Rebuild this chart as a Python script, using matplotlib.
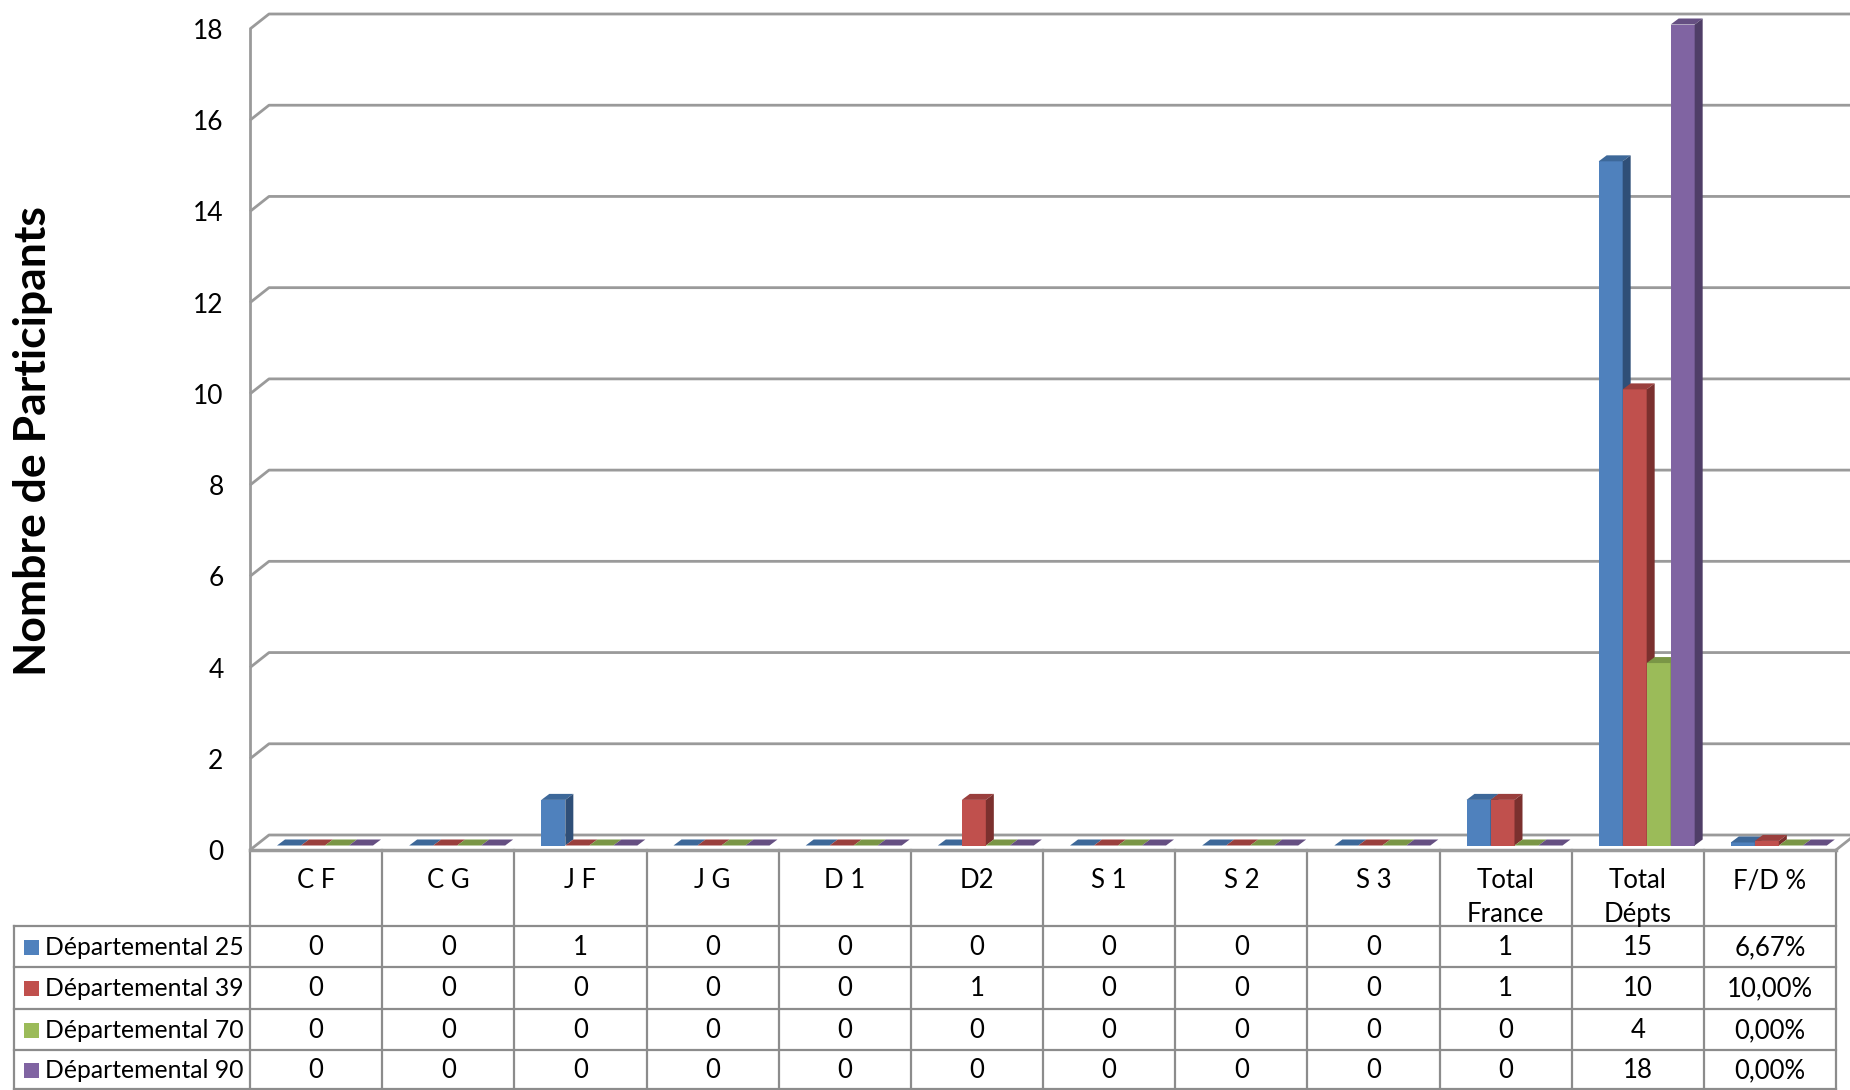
import matplotlib
matplotlib.use("Agg")
import matplotlib.pyplot as plt
from matplotlib.patches import Polygon, Rectangle

# donnees du tableau
categories = ["C F", "C G", "J F", "J G", "D 1", "D2", "S 1", "S 2", "S 3",
              "Total\nFrance", "Total\nDépts", "F/D %"]
series = ["Départemental 25", "Départemental 39", "Départemental 70", "Départemental 90"]
dep25 = [0, 0, 1, 0, 0, 0, 0, 0, 0, 1, 15, 0.0667]
dep39 = [0, 0, 0, 0, 0, 1, 0, 0, 0, 1, 10, 0.10]
dep70 = [0, 0, 0, 0, 0, 0, 0, 0, 0, 0, 4, 0.0]
dep90 = [0, 0, 0, 0, 0, 0, 0, 0, 0, 0, 18, 0.0]
values = [dep25, dep39, dep70, dep90]

front = ["#4F81BD", "#C0504D", "#9BBB59", "#8064A2"]
top = ["#3D6899", "#9A3F3D", "#7A9646", "#654F82"]
side = ["#2F4F78", "#7B302E", "#627839", "#4F3E67"]
grid_c = "#9A9A9A"
line_c = "#8C8C8C"

plt.rcParams['font.family'] = ['Lato', 'DejaVu Sans']

W, H = 1850, 1090
x0, x1 = 250, 1836          # bord gauche / droit du graphique (px)
y0, y18 = 850, 29           # position de 0 et 18 (px depuis le haut)
colw = (x1 - x0) / 12
pxv = (y0 - y18) / 18

fig = plt.figure(figsize=(W / 100, H / 100), dpi=100)
ax = fig.add_axes([x0 / W, (H - y0) / H, (x1 - x0) / W, (y0 - y18) / H])
ax.set_xlim(0, 12)
ax.set_ylim(0, 18)
ax.set_frame_on(False)
ax.set_xticks([])
ax.set_yticks(range(0, 19, 2))
ax.tick_params(axis='y', length=0, pad=19, labelsize=19)

# effet 3D : decalage de profondeur du mur / sol
gx, gy = 19 / colw, 15 / pxv
for v in range(0, 19, 2):
    ax.plot([0, gx, (W - x0) / colw], [v, v + gy, v + gy], color=grid_c, lw=2,
            clip_on=False, zorder=1, solid_capstyle='butt')
ax.plot([0, 0], [0, 18], color=grid_c, lw=2, clip_on=False, zorder=1)
ax.plot([0, 12], [0, 0], color=grid_c, lw=2.5, clip_on=False, zorder=1)
ax.plot([12, 12 + gx], [0, gy], color=grid_c, lw=2, clip_on=False, zorder=1)

# barres
bw = 24 / colw
start = 27 / colw
dx, dy = 8 / colw, 6 / pxv
lift = 4.5 / pxv
z = 3
for i in range(len(categories)):
    for s in range(4):
        v = values[s][i]
        xl = i + start + s * bw
        ax.bar(xl, v, width=bw, bottom=lift, align='edge', color=front[s],
               linewidth=0, zorder=z, clip_on=False)
        yt = lift + v
        ax.add_patch(Polygon([[xl, yt], [xl + bw, yt], [xl + bw + dx, yt + dy], [xl + dx, yt + dy]],
                             closed=True, facecolor=top[s], edgecolor='none', zorder=z, clip_on=False))
        if v > 0:
            ax.add_patch(Polygon([[xl + bw, lift], [xl + bw + dx, lift + dy], [xl + bw + dx, yt + dy], [xl + bw, yt]],
                                 closed=True, facecolor=side[s], edgecolor='none', zorder=z, clip_on=False))
        z += 1

# tableau de donnees
tab = fig.add_axes([0, 0, 1, 1], zorder=-1)
tab.set_xlim(0, W)
tab.set_ylim(H, 0)
tab.axis('off')

rows = [y0, 926, 967, 1009, 1050, 1089]
leg_l = 14
fs = 18.5
for k in range(13):
    xx = x0 + k * colw
    tab.plot([xx, xx], [rows[0], rows[-1]], color=line_c, lw=1.6)
for r in rows[1:]:
    tab.plot([leg_l, x1], [r, r], color=line_c, lw=1.6)
tab.plot([leg_l, leg_l], [rows[1], rows[-1]], color=line_c, lw=1.6)

for i, c in enumerate(categories):
    tab.text(x0 + (i + 0.5) * colw, rows[0] + 18, c, ha='center', va='top',
             fontsize=fs, linespacing=1.45)

for s in range(4):
    yc = (rows[s + 1] + rows[s + 2]) / 2 + 1
    tab.add_patch(Rectangle((24, yc - 8), 15, 15, facecolor=front[s], edgecolor='none'))
    tab.text(45, yc, series[s], ha='left', va='center', fontsize=17.8)
    for i in range(len(categories)):
        v = values[s][i]
        if i == len(categories) - 1:
            lab = ("%.2f%%" % (v * 100)).replace(".", ",")
        else:
            lab = str(v)
        tab.text(x0 + (i + 0.5) * colw, yc, lab, ha='center', va='center', fontsize=fs)

fig.text(33 / W, 1 - 441 / H, "Nombre de Participants", rotation=90, ha='center', va='center',
         fontsize=32, fontweight='bold')

fig.savefig("out.png", dpi=100)
